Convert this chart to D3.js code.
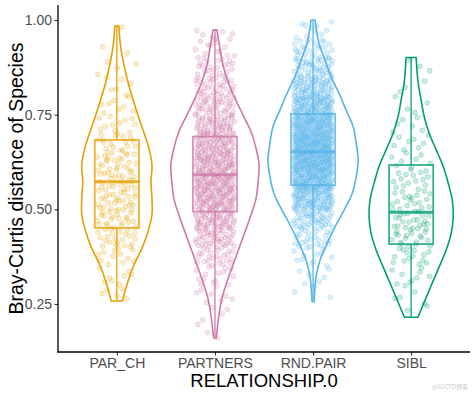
<!DOCTYPE html>
<html>
<head>
<meta charset="utf-8">
<script src="https://cdn.jsdelivr.net/npm/d3@7"></script>
<style>
  body { margin: 0; background: #fff; }
  svg { display: block; font-family: "Liberation Sans", Arial, sans-serif; }
</style>
</head>
<body>
<svg id="chart" width="474" height="394"></svg>
<script>
// ---------------- data ----------------
const groups = ["PAR_CH", "PARTNERS", "RND.PAIR", "SIBL"];
const colors = ["#E69F00", "#CC79A7", "#56B4E9", "#009E73"];
const yTicks = [0.25, 0.50, 0.75, 1.00];
const yTickLabels = ["0.25", "0.50", "0.75", "1.00"];

// violin profiles: value and relative density
const parchViolinV = [0.258, 0.309, 0.353, 0.397, 0.441, 0.485, 0.529, 0.573, 0.617, 0.661, 0.749, 0.837, 0.925, 0.984];
const parchViolinD = [0.125, 0.244, 0.378, 0.556, 0.689, 0.778, 0.778, 0.756, 0.778, 0.711, 0.467, 0.244, 0.09, 0.044];
const partnersViolinV = [0.160, 0.177, 0.221, 0.265, 0.309, 0.353, 0.397, 0.441, 0.485, 0.529, 0.573, 0.617, 0.661, 0.705, 0.749, 0.793, 0.837, 0.881, 0.925, 0.974];
const partnersViolinD = [0.027, 0.044, 0.089, 0.156, 0.267, 0.400, 0.533, 0.667, 0.800, 0.911, 0.956, 0.978, 0.911, 0.800, 0.622, 0.444, 0.289, 0.178, 0.111, 0.044];
const rndViolinV = [0.256, 0.278, 0.322, 0.366, 0.410, 0.454, 0.498, 0.542, 0.586, 0.630, 0.674, 0.718, 0.762, 0.806, 0.850, 0.894, 0.938, 1.000];
const rndViolinD = [0.022, 0.033, 0.067, 0.156, 0.311, 0.489, 0.689, 0.867, 0.956, 1.000, 0.956, 0.889, 0.733, 0.578, 0.400, 0.267, 0.133, 0.044];
const siblViolinV = [0.215, 0.261, 0.305, 0.348, 0.393, 0.437, 0.481, 0.525, 0.569, 0.613, 0.657, 0.701, 0.745, 0.789, 0.833, 0.901];
const siblViolinD = [0.150, 0.311, 0.467, 0.622, 0.778, 0.889, 0.933, 0.911, 0.822, 0.711, 0.556, 0.400, 0.289, 0.222, 0.156, 0.111];

// box plot statistics
const boxLow  = [0.259, 0.160, 0.256, 0.215];
const boxQ1   = [0.451, 0.494, 0.564, 0.408];
const boxMed  = [0.573, 0.591, 0.652, 0.492];
const boxQ3   = [0.683, 0.692, 0.752, 0.617];
const boxHigh = [0.984, 0.974, 1.000, 0.901];

// jittered observations: counts per 0.05 bin (bin starts below)
const binStarts = [0.15, 0.20, 0.25, 0.30, 0.35, 0.40, 0.45, 0.50, 0.55, 0.60, 0.65, 0.70, 0.75, 0.80, 0.85, 0.90, 0.95];
const parchCounts    = [0, 0, 5, 8, 12, 22, 24, 26, 26, 24, 18, 11, 8, 6, 4, 2, 1];
const partnersCounts = [3, 4, 8, 14, 25, 45, 65, 80, 85, 80, 70, 55, 42, 32, 22, 14, 6];
const rndCounts      = [0, 0, 3, 6, 12, 25, 50, 90, 130, 150, 150, 130, 100, 70, 45, 25, 10];
const siblCounts     = [0, 2, 5, 9, 14, 20, 22, 18, 14, 10, 8, 6, 4, 3, 3, 0, 0];

const violinV = [parchViolinV, partnersViolinV, rndViolinV, siblViolinV];
const violinD = [parchViolinD, partnersViolinD, rndViolinD, siblViolinD];
const counts = [parchCounts, partnersCounts, rndCounts, siblCounts];

// ---------------- layout ----------------
const svg = d3.select("#chart");
const mLeft = 58, mRight = 470, mTop = 5, mBottom = 352;

const x = d3.scalePoint().domain(groups).range([mLeft, mRight]).padding(0.6);
const y = d3.scaleLinear().domain([0.1232, 1.0396]).range([mBottom, mTop]);
const step = x.step();
const w = d3.scaleLinear().domain([0, 1]).range([0, 0.46 * step]);
const boxHalf = 0.225 * step;
const jitter = 0.2 * step;

function halton(i, b) {
  let f = 1, r = 0;
  while (i > 0) { f /= b; r += f * (i % b); i = Math.floor(i / b); }
  return r;
}

const plot = svg.append("g");

// violins
groups.forEach((g, gi) => {
  const cx = x(g);
  const pts = violinV[gi].map((v, i) => [v, violinD[gi][i]]);
  const area = d3.area()
    .y(d => y(d[0]))
    .x0(d => cx - w(d[1]))
    .x1(d => cx + w(d[1]))
    .curve(d3.curveCatmullRom);
  plot.append("path")
    .attr("d", area(pts))
    .attr("fill", "none")
    .attr("stroke", colors[gi])
    .attr("stroke-width", 1.6)
    .attr("stroke-linejoin", "round");
});

// jittered points
groups.forEach((g, gi) => {
  const cx = x(g);
  let k = 1;
  const data = [];
  counts[gi].forEach((c, bi) => {
    const lo = Math.max(binStarts[bi], boxLow[gi]);
    const hi = Math.min(binStarts[bi] + 0.05, boxHigh[gi]);
    for (let j = 0; j < c; j++) {
      data.push({
        v: lo + halton(k + 7 * gi, 3) * (hi - lo),
        dx: (halton(k + 7 * gi, 2) * 2 - 1) * jitter
      });
      k++;
    }
  });
  plot.append("g").selectAll("circle").data(data).join("circle")
    .attr("cx", d => cx + d.dx)
    .attr("cy", d => y(d.v))
    .attr("r", 2.4)
    .attr("fill", colors[gi])
    .attr("fill-opacity", 0.2)
    .attr("stroke", colors[gi])
    .attr("stroke-opacity", 0.3)
    .attr("stroke-width", 0.8);
});

// box plots
groups.forEach((g, gi) => {
  const cx = x(g);
  const bg = plot.append("g").attr("stroke", colors[gi]).attr("stroke-opacity", 0.8).attr("fill", "none");
  bg.append("line").attr("x1", cx).attr("x2", cx).attr("y1", y(boxQ3[gi])).attr("y2", y(boxHigh[gi])).attr("stroke-width", 1.6);
  bg.append("line").attr("x1", cx).attr("x2", cx).attr("y1", y(boxQ1[gi])).attr("y2", y(boxLow[gi])).attr("stroke-width", 1.6);
  bg.append("rect")
    .attr("x", cx - boxHalf).attr("width", 2 * boxHalf)
    .attr("y", y(boxQ3[gi])).attr("height", y(boxQ1[gi]) - y(boxQ3[gi]))
    .attr("stroke-width", 1.8);
  bg.append("line").attr("x1", cx - boxHalf).attr("x2", cx + boxHalf)
    .attr("y1", y(boxMed[gi])).attr("y2", y(boxMed[gi])).attr("stroke-width", 3);
});

// axes
const yAxis = svg.append("g")
  .attr("transform", `translate(${mLeft},0)`)
  .call(d3.axisLeft(y).tickValues(yTicks).tickFormat((d, i) => yTickLabels[i]).tickSize(3.5).tickPadding(2.5));
yAxis.select(".domain").remove();
yAxis.selectAll(".tick line").attr("stroke", "#333").attr("stroke-width", 1.1);
yAxis.selectAll(".tick text").attr("fill", "#4d4d4d").style("font-size", "14px").style("font-family", "'Liberation Sans', Arial, sans-serif");

const xAxis = svg.append("g")
  .attr("transform", `translate(0,${mBottom})`)
  .call(d3.axisBottom(x).tickSize(3.5).tickPadding(2.5));
xAxis.select(".domain").remove();
xAxis.selectAll(".tick line").attr("stroke", "#333").attr("stroke-width", 1.1);
xAxis.selectAll(".tick text").attr("fill", "#4d4d4d").style("font-size", "14px").style("font-family", "'Liberation Sans', Arial, sans-serif");

svg.append("line").attr("x1", mLeft).attr("x2", mLeft).attr("y1", mTop).attr("y2", mBottom + 0.6)
  .attr("stroke", "#000").attr("stroke-width", 1.3);
svg.append("line").attr("x1", mLeft - 0.6).attr("x2", mRight).attr("y1", mBottom).attr("y2", mBottom)
  .attr("stroke", "#000").attr("stroke-width", 1.3);

// titles
svg.append("text")
  .attr("x", (mLeft + mRight) / 2).attr("y", 387)
  .attr("text-anchor", "middle").style("font-size", "18.5px").attr("fill", "#000")
  .text("RELATIONSHIP.0");
svg.append("text")
  .attr("transform", `translate(23,${(mTop + mBottom) / 2}) rotate(-90)`)
  .attr("text-anchor", "middle").style("font-size", "19.5px").attr("fill", "#000")
  .text("Bray-Curtis distance of Species");

// watermark
svg.append("text")
  .attr("x", 468).attr("y", 389).attr("text-anchor", "end")
  .style("font-size", "6px").style("font-family", "'Noto Sans CJK SC', sans-serif")
  .attr("fill", "#c8c8c8").text("@51CTO博客");
</script>
</body>
</html>
